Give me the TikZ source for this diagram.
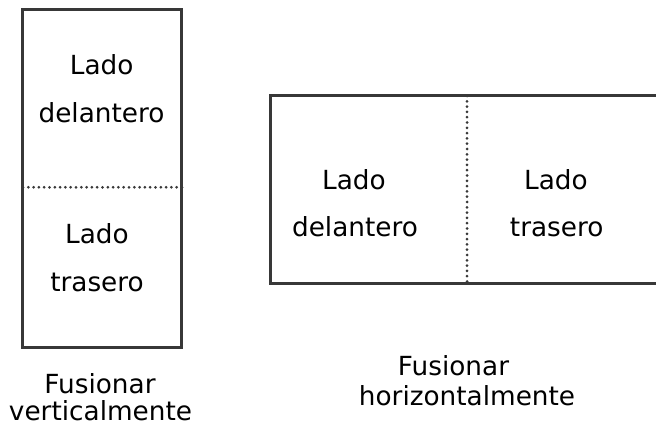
\documentclass[tikz,border=0pt]{standalone}
\usepackage{fontspec}
\setmainfont{DejaVu Sans}
\definecolor{boxgray}{HTML}{383838}
\begin{document}
\begin{tikzpicture}[x=1pt,y=-1pt,
  box/.style={draw=boxgray, line width=3pt, rectangle, inner sep=0pt},
  sep/.style={draw=boxgray, line width=3pt, dash pattern=on 0pt off 5.3pt, line cap=round},
  lbl/.style={font=\fontsize{26.3}{30}\selectfont, anchor=base, inner sep=0pt, text=black}]
\useasboundingbox (0,0) rectangle (656,427);
% left (vertical) sheet
\node[box, minimum width=159.3pt, minimum height=337.5pt] (vbox) at (101.7,178.75) {};
\coordinate (vsl) at (23,187.3);
\coordinate (vsr) at (185,187.3);
\draw[sep] (vsl) -- (vsr);
\node[lbl] (v1a) at (101.7,75) {Lado};
\node[lbl] (v1b) at (101.5,122.7) {delantero};
\node[lbl] (v2a) at (97,244) {Lado};
\node[lbl] (v2b) at (97,291.7) {trasero};
\node[lbl] (vc1) at (100,393.3) {Fusionar};
\node[lbl] (vc2) at (100.5,420.5) {verticalmente};
% right (horizontal) sheet
\node[box, minimum width=400pt, minimum height=188.7pt] (hbox) at (470.7,189.65) {};
\coordinate (hst) at (467,96);
\coordinate (hsb) at (467,284);
\draw[sep] (hst) -- (hsb);
\node[lbl] (h1a) at (354,189.3) {Lado};
\node[lbl] (h1b) at (355,236.7) {delantero};
\node[lbl] (h2a) at (556,189.3) {Lado};
\node[lbl] (h2b) at (556.7,236.7) {trasero};
\node[lbl] (hc1) at (453.5,375.7) {Fusionar};
\node[lbl] (hc2) at (467,406) {horizontalmente};
\end{tikzpicture}
\end{document}
